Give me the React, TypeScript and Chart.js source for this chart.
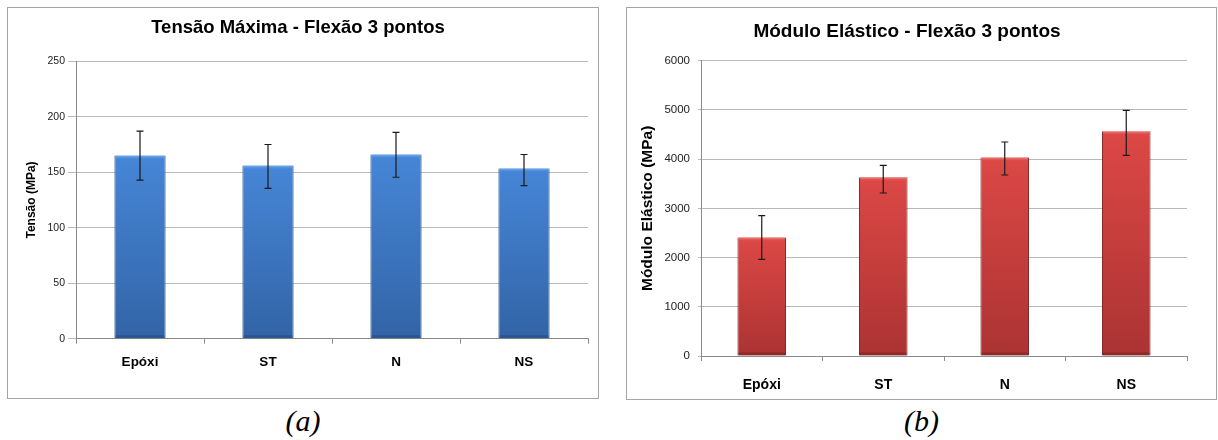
import React, { useEffect, useRef } from "react";
import { Chart, registerables } from "chart.js";

Chart.register(...registerables);

const categories = ["Epóxi", "ST", "N", "NS"];

const tensaoValues = [165, 156, 166, 153.5];
const tensaoErrPlus = [22, 19, 20, 12.5];
const tensaoErrMinus = [22, 20.5, 20.5, 15.5];
const tensaoTicks = { min: 0, max: 250, step: 50 };

const moduloValues = [2410, 3630, 4035, 4565];
const moduloErrPlus = [441, 244, 313, 427];
const moduloErrMinus = [446, 318, 357, 487];
const moduloTicks = { min: 0, max: 6000, step: 1000 };

const SANS = "'Liberation Sans', Arial, sans-serif";

const errorBarPlugin = {
  id: "errorBars",
  afterDatasetsDraw(chart: any, _args: any, opts: any) {
    const { ctx } = chart;
    const meta = chart.getDatasetMeta(0);
    const yScale = chart.scales.y;
    const vals = chart.data.datasets[0].data;
    meta.data.forEach((bar: any) => {
      const p = bar.getProps(["x", "y", "width", "base"], true);
      const l = p.x - p.width / 2;
      ctx.save();
      const g = ctx.createLinearGradient(0, p.y, 0, p.y + 4);
      g.addColorStop(0, opts.hiTop);
      g.addColorStop(1, opts.hiBottom);
      ctx.fillStyle = g;
      ctx.fillRect(l + 1, p.y, p.width - 2, 4);
      ctx.fillStyle = opts.shade;
      ctx.fillRect(l + 1, p.base - 3, p.width - 2, 3);
      ctx.restore();
    });
    ctx.save();
    ctx.strokeStyle = "#1a1a1a";
    ctx.lineWidth = 1.2;
    meta.data.forEach((bar: any, i: number) => {
      const x = bar.x;
      const yT = yScale.getPixelForValue(vals[i] + opts.plus[i]);
      const yB = yScale.getPixelForValue(vals[i] - opts.minus[i]);
      ctx.beginPath();
      ctx.moveTo(x, yT);
      ctx.lineTo(x, yB);
      ctx.moveTo(x - 3.5, yT);
      ctx.lineTo(x + 3.5, yT);
      ctx.moveTo(x - 3.5, yB);
      ctx.lineTo(x + 3.5, yB);
      ctx.stroke();
    });
    ctx.restore();
  },
};

type Props = {
  width: number;
  height: number;
  title: string;
  titleSize: number;
  titlePad: { top: number; bottom: number };
  yTitle: string;
  yTitleSize: number;
  yTitlePad: number;
  yWidth: number;
  yTickLen: number;
  yTickPad: number;
  yTickSize: number;
  xHeight: number;
  xTickPad: number;
  xTickSize: number;
  padRight: number;
  values: number[];
  plus: number[];
  minus: number[];
  ticks: { min: number; max: number; step: number };
  colTop: string;
  colBottom: string;
  edge: string;
  hiTop: string;
  hiBottom: string;
  shade: string;
};

function BarChart(p: Props) {
  const ref = useRef<HTMLCanvasElement | null>(null);
  useEffect(() => {
    if (!ref.current) return;
    const chart = new Chart(ref.current, {
      type: "bar",
      data: {
        labels: categories,
        datasets: [
          {
            data: p.values,
            backgroundColor: (c: any) => {
              const ch = c.chart;
              if (!ch.chartArea || c.raw === undefined) return p.colTop;
              const ys = ch.scales.y;
              const y0 = ys.getPixelForValue(c.raw);
              const y1 = ys.getPixelForValue(0);
              const g = ch.ctx.createLinearGradient(0, y0, 0, y1);
              g.addColorStop(0, p.colTop);
              g.addColorStop(1, p.colBottom);
              return g;
            },
            borderColor: p.edge,
            borderWidth: { left: 1, right: 1, top: 0, bottom: 0 },
            borderSkipped: false,
            barPercentage: 0.8,
            categoryPercentage: 0.5,
          },
        ],
      },
      options: {
        animation: false,
        responsive: false,
        devicePixelRatio: 1,
        layout: { padding: { left: 0, right: p.padRight, top: 0, bottom: 0 } },
        plugins: {
          legend: { display: false },
          tooltip: { enabled: false },
          title: {
            display: true,
            text: p.title,
            color: "#000",
            font: { family: SANS, size: p.titleSize, weight: "bold", lineHeight: 1.2 },
            padding: p.titlePad,
          },
          errorBars: {
            plus: p.plus,
            minus: p.minus,
            hiTop: p.hiTop,
            hiBottom: p.hiBottom,
            shade: p.shade,
          },
        } as any,
        scales: {
          x: {
            offset: true,
            grid: {
              display: true,
              drawOnChartArea: false,
              drawTicks: true,
              tickLength: 5,
              color: "#8a8a8a",
              offset: true,
            },
            border: { display: true, color: "#8a8a8a", width: 1 },
            ticks: {
              color: "#000",
              padding: p.xTickPad,
              font: { family: SANS, size: p.xTickSize, weight: "bold", lineHeight: 1.2 },
            },
            afterFit: (s: any) => {
              s.height = p.xHeight;
            },
          },
          y: {
            min: p.ticks.min,
            max: p.ticks.max,
            ticks: {
              stepSize: p.ticks.step,
              color: "#222",
              padding: p.yTickPad,
              font: { family: SANS, size: p.yTickSize, lineHeight: 1.2 },
              callback: (v: any) => String(v),
            },
            grid: {
              color: "#b8b8b8",
              lineWidth: 1,
              drawTicks: true,
              tickLength: p.yTickLen,
              tickColor: "#b8b8b8",
            },
            border: { display: true, color: "#8a8a8a", width: 1 },
            title: {
              display: true,
              text: p.yTitle,
              color: "#000",
              font: { family: SANS, size: p.yTitleSize, weight: "bold", lineHeight: 1.2 },
              padding: { top: p.yTitlePad, bottom: 0 },
            },
            afterFit: (s: any) => {
              s.width = p.yWidth;
            },
          },
        },
      },
      plugins: [errorBarPlugin],
    } as any);
    return () => chart.destroy();
  }, []);
  return <canvas ref={ref} width={p.width} height={p.height} style={{ display: "block" }} />;
}

export default function App() {
  const box = (left: number, top: number, w: number, h: number): React.CSSProperties => ({
    position: "absolute",
    left,
    top,
    width: w,
    height: h,
    boxSizing: "border-box",
    border: "1px solid #a4a4a4",
    background: "#fff",
  });
  const caption = (left: number, w: number): React.CSSProperties => ({
    position: "absolute",
    left,
    width: w,
    top: 403,
    textAlign: "center",
    fontFamily: "'Liberation Serif', 'Times New Roman', serif",
    fontStyle: "italic",
    fontSize: 30,
    lineHeight: "36px",
    color: "#000",
  });
  return (
    <div style={{ position: "absolute", left: 0, top: 0, width: 1218, height: 440, background: "#fff" }}>
      <div style={box(7, 7, 592, 392)}>
        <BarChart
          width={590}
          height={390}
          title="Tensão Máxima - Flexão 3 pontos"
          titleSize={18.5}
          titlePad={{ top: 8.5, bottom: 22.6 }}
          yTitle="Tensão (MPa)"
          yTitleSize={12}
          yTitlePad={16.8}
          yWidth={68}
          yTickLen={8}
          yTickPad={3}
          yTickSize={10.5}
          xHeight={59.3}
          xTickPad={10.2}
          xTickSize={13.5}
          padRight={10}
          values={tensaoValues}
          plus={tensaoErrPlus}
          minus={tensaoErrMinus}
          ticks={tensaoTicks}
          colTop="#4686d7"
          colBottom="#3264a6"
          edge="#27508a"
          hiTop="#7fb3ef"
          hiBottom="rgba(70,134,215,0)"
          shade="rgba(30,60,110,0.35)"
        />
      </div>
      <div style={caption(7, 592)}>(a)</div>
      <div style={box(626, 7, 591, 393)}>
        <BarChart
          width={589}
          height={391}
          title="Módulo Elástico - Flexão 3 pontos"
          titleSize={19}
          titlePad={{ top: 12.6, bottom: 17.3 }}
          yTitle="Módulo Elástico (MPa)"
          yTitleSize={15.5}
          yTitlePad={11.2}
          yWidth={74}
          yTickLen={3}
          yTickPad={8}
          yTickSize={11.5}
          xHeight={43}
          xTickPad={15.6}
          xTickSize={14}
          padRight={29}
          values={moduloValues}
          plus={moduloErrPlus}
          minus={moduloErrMinus}
          ticks={moduloTicks}
          colTop="#dc4845"
          colBottom="#ab3333"
          edge="#7a2020"
          hiTop="#f08a86"
          hiBottom="rgba(220,72,69,0)"
          shade="rgba(90,20,20,0.35)"
        />
      </div>
      <div style={caption(626, 591)}>(b)</div>
    </div>
  );
}
